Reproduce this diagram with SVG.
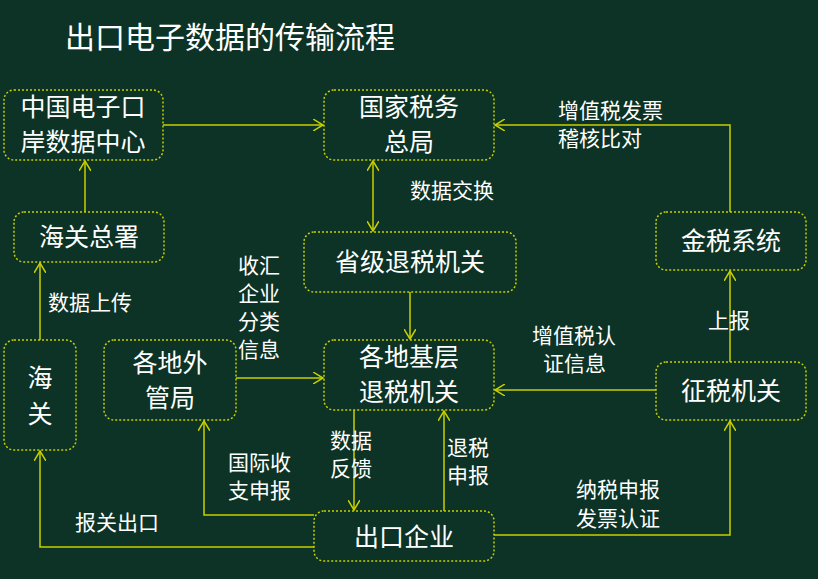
<svg xmlns="http://www.w3.org/2000/svg" width="818" height="579" viewBox="0 0 818 579">
<style>
.b{fill:#0c3325;stroke:#c8d000;stroke-width:1.5;stroke-dasharray:2 2}
.t{font-family:"Noto Sans CJK SC","Liberation Sans",sans-serif;fill:#fff;font-size:25px;text-anchor:middle}
.l{font-family:"Noto Sans CJK SC","Liberation Sans",sans-serif;fill:#fff;font-size:21px}
.c{fill:none;stroke:#c8d000;stroke-width:1.5}
</style>
<defs><marker id="a" markerWidth="12" markerHeight="12" refX="10" refY="6" orient="auto-start-reverse" markerUnits="userSpaceOnUse"><path d="M0,0 L10,6 L0,12" fill="none" stroke="#c8d000" stroke-width="1.5"/></marker></defs>
<rect width="818" height="579" fill="#0c3325"/>
<text x="65" y="48" font-family="Noto Sans CJK SC,sans-serif" font-size="30" fill="#fff">出口电子数据的传输流程</text>
<g id="connectors">
<path class="c" d="M163,125 H323" marker-end="url(#a)"/>
<path class="c" d="M85,212 V161" marker-end="url(#a)"/>
<path class="c" d="M40,340 V263" marker-end="url(#a)"/>
<path class="c" d="M373,161 V231" marker-start="url(#a)" marker-end="url(#a)"/>
<path class="c" d="M410,292 V339" marker-end="url(#a)"/>
<path class="c" d="M236,378 H323" marker-end="url(#a)"/>
<path class="c" d="M656,390 H495" marker-end="url(#a)"/>
<path class="c" d="M730,362 V271" marker-end="url(#a)"/>
<path class="c" d="M730,212 V125 H495" marker-end="url(#a)"/>
<path class="c" d="M354,410 V510" marker-end="url(#a)"/>
<path class="c" d="M444,511 V411" marker-end="url(#a)"/>
<path class="c" d="M314,515 H204 V421" marker-end="url(#a)"/>
<path class="c" d="M314,547 H40 V451" marker-end="url(#a)"/>
<path class="c" d="M494,535 H730 V421" marker-end="url(#a)"/>
<text class="l" x="410" y="198">数据交换</text>
<text class="l" x="558" y="118">增值税发票</text>
<text class="l" x="558" y="146">稽核比对</text>
<text class="l" x="238" y="273">收汇</text>
<text class="l" x="238" y="301">企业</text>
<text class="l" x="238" y="329">分类</text>
<text class="l" x="238" y="357">信息</text>
<text class="l" x="48" y="310">数据上传</text>
<text class="l" x="532" y="343">增值税认</text>
<text class="l" x="543" y="371">证信息</text>
<text class="l" x="708" y="328">上报</text>
<text class="l" x="330" y="448">数据</text>
<text class="l" x="330" y="476">反馈</text>
<text class="l" x="447" y="455">退税</text>
<text class="l" x="447" y="483">申报</text>
<text class="l" x="228" y="470">国际收</text>
<text class="l" x="228" y="498">支申报</text>
<text class="l" x="75" y="530">报关出口</text>
<text class="l" x="576" y="497">纳税申报</text>
<text class="l" x="576" y="526">发票认证</text>
</g>
<g id="n1"><rect class="b" x="4" y="90" width="159" height="70" rx="10"/><text class="t" x="83" y="116">中国电子口</text><text class="t" x="83" y="151">岸数据中心</text></g>
<g id="n2"><rect class="b" x="324" y="90" width="170" height="70" rx="10"/><text class="t" x="409" y="116">国家税务</text><text class="t" x="409" y="151">总局</text></g>
<g id="n3"><rect class="b" x="14" y="212" width="150" height="50" rx="10"/><text class="t" x="89" y="246">海关总署</text></g>
<g id="n4"><rect class="b" x="656" y="212" width="150" height="58" rx="10"/><text class="t" x="731" y="250">金税系统</text></g>
<g id="n5"><rect class="b" x="304" y="232" width="212" height="60" rx="10"/><text class="t" x="410" y="271">省级退税机关</text></g>
<g id="n6"><rect class="b" x="104" y="340" width="132" height="80" rx="10"/><text class="t" x="170" y="372">各地外</text><text class="t" x="170" y="407">管局</text></g>
<g id="n7"><rect class="b" x="4" y="340" width="72" height="110" rx="10"/><text class="t" x="40" y="387">海</text><text class="t" x="40" y="423">关</text></g>
<g id="n8"><rect class="b" x="324" y="340" width="170" height="70" rx="10"/><text class="t" x="409" y="366">各地基层</text><text class="t" x="409" y="401">退税机关</text></g>
<g id="n9"><rect class="b" x="656" y="362" width="150" height="58" rx="10"/><text class="t" x="731" y="400">征税机关</text></g>
<g id="n10"><rect class="b" x="314" y="511" width="180" height="50" rx="10"/><text class="t" x="404" y="546">出口企业</text></g>
</svg>
